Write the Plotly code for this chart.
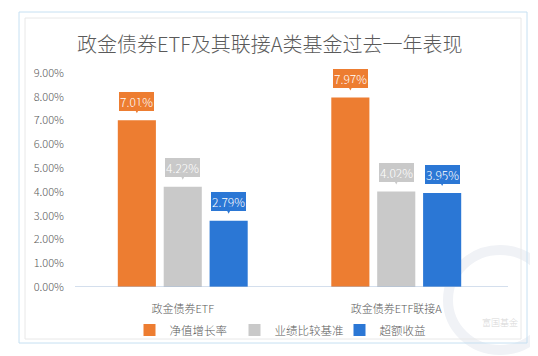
import plotly.graph_objects as go

categories = ["政金债券ETF", "政金债券ETF联接A"]
series_names = ["净值增长率", "业绩比较基准", "超额收益"]
nav_growth = [7.01, 7.97]
benchmark = [4.22, 4.02]
excess = [2.79, 3.95]
y_ticks = [0, 1, 2, 3, 4, 5, 6, 7, 8, 9]
y_tick_labels = [f"{v:.2f}%" for v in y_ticks]
title_text = "政金债券ETF及其联接A类基金过去一年表现"

colors = ["#ED7D31", "#C9C9C9", "#2B77D5"]
series_values = [nav_growth, benchmark, excess]

FONT = "Noto Sans CJK SC Light, Noto Sans CJK SC"
TXT = "#5a5a5a"
BARGAP = 0.355
GROUPGAP = 0.17

# page body has an 8px margin; work in window pixels and convert
OFF = 8
W, H = 538 - OFF, 356 - OFF
PL, PR, PT, PB = 76, 503, 73, 287          # plot area in window pixels
ML, MR, MT, MB = PL - OFF, W - (PR - OFF), PT - OFF, H - (PB - OFF)
PW, PH = W - ML - MR, H - MT - MB

def px(x):
    return (x - OFF - ML) / PW

def py(y):
    return (H - MB - (y - OFF)) / PH

fig = go.Figure()
for name, vals, col in zip(series_names, series_values, colors):
    fig.add_trace(go.Bar(
        x=categories, y=vals, name=name,
        marker=dict(color=col, line=dict(width=0)),
        hoverinfo="skip",
    ))

slot = (1 - BARGAP) / len(series_values)
annotations = []
for si, (vals, col) in enumerate(zip(series_values, colors)):
    for ci, v in enumerate(vals):
        annotations.append(dict(
            x=ci + (si - 1) * slot, y=v, xref="x", yref="y",
            text=f"{v:.2f}%",
            font=dict(family=FONT, size=12, color="white"),
            bgcolor=col, bordercolor=col, borderpad=0, borderwidth=1,
            showarrow=True, ax=0, ay=-19, arrowhead=2, arrowsize=1,
            arrowwidth=1.5, arrowcolor=col, standoff=7,
        ))

annotations.append(dict(
    x=px(270), y=py(43), xref="paper", yref="paper",
    text=title_text, showarrow=False,
    font=dict(family=FONT, size=20, color=TXT, weight=300),
    xanchor="center", yanchor="middle",
))
annotations.append(dict(
    x=px(500), y=py(322), xref="paper", yref="paper",
    text="富国基金", showarrow=False,
    font=dict(family=FONT, size=9, color="#d8d8d8"),
    xanchor="center", yanchor="middle",
))

shapes = [
    dict(type="circle", xref="paper", yref="paper",
         x0=px(448), x1=px(552), y0=py(350), y1=py(250),
         line=dict(color="#f0f2f6", width=10), layer="below"),
    dict(type="rect", xref="paper", yref="paper",
         x0=px(19), x1=px(527), y0=py(343), y1=py(12),
         line=dict(color="#c6e0f2", width=1), layer="below"),
    dict(type="rect", xref="paper", yref="paper",
         x0=px(25), x1=px(521), y0=py(339), y1=py(18),
         line=dict(color="#e8e8e8", width=1), layer="below"),
    dict(type="line", xref="paper", yref="y",
         x0=px(75), x1=px(508), y0=0, y1=0,
         line=dict(color="#a9bfdc", width=1.2)),
]

fig.update_layout(
    width=W, height=H,
    margin=dict(l=ML, r=MR, t=MT, b=MB),
    paper_bgcolor="white", plot_bgcolor="white",
    barmode="group", bargap=BARGAP, bargroupgap=GROUPGAP,
    font=dict(family=FONT, size=11, color=TXT),
    showlegend=True,
    legend=dict(
        orientation="h", x=px(287), xanchor="center",
        y=py(330), yanchor="middle",
        font=dict(family=FONT, size=11.5, color=TXT),
        itemwidth=30, entrywidth=60, bgcolor="rgba(0,0,0,0)",
    ),
    annotations=annotations,
    shapes=shapes,
    xaxis=dict(
        type="category", showgrid=False, zeroline=False, showline=False,
        ticks="", ticklabelstandoff=14,
        tickfont=dict(family=FONT, size=11, color=TXT),
    ),
    yaxis=dict(
        range=[0, 9], tickvals=y_ticks, ticktext=y_tick_labels,
        showgrid=False, zeroline=False, showline=False, ticks="",
        ticklabelstandoff=11,
        tickfont=dict(family=FONT, size=11, color=TXT),
    ),
)

fig.write_html("out.html")
